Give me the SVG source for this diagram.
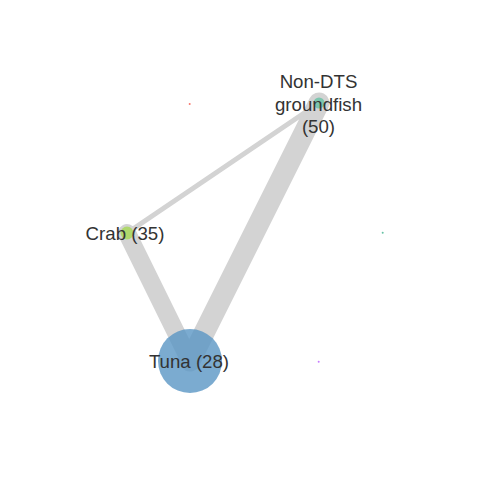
<svg xmlns="http://www.w3.org/2000/svg" width="480" height="480" viewBox="0 0 480 480">
<style>
.edge{stroke:#d3d3d3;stroke-linecap:round;fill:none}
.lbl{font-family:"Liberation Sans",Arial,sans-serif;font-size:18.67px;fill:#333333;text-anchor:middle}
.node{fill-opacity:0.8}
</style>
<rect width="480" height="480" fill="#ffffff"/>
<g id="edges">
<line class="edge" x1="127" y1="233" x2="190" y2="361" stroke-width="18"/>
<line class="edge" x1="319" y1="103" x2="190" y2="361" stroke-width="21"/>
<line class="edge" x1="127" y1="233" x2="319" y2="103" stroke-width="5"/>
</g>
<g id="node-red"><circle cx="189.7" cy="104" r="1" fill="#f8766d"/></g>
<g id="node-teal"><circle cx="382.7" cy="232.7" r="1" fill="#66c2a5"/></g>
<g id="node-purple"><circle cx="318.7" cy="361.7" r="1" fill="#c77cff"/></g>
<g id="node-tuna">
<circle class="node" cx="190" cy="361" r="32" fill="#5a96c4"/>
<text class="lbl" x="189" y="367.5">Tuna (28)</text>
</g>
<g id="node-crab">
<circle class="node" cx="127" cy="233" r="6.5" fill="#a6d854"/>
<text class="lbl" x="125" y="240">Crab (35)</text>
</g>
<g id="node-nondts">
<circle class="node" cx="319" cy="103" r="5.5" fill="#66c2a5"/>
<text class="lbl" x="318.5" y="88">Non-DTS</text>
<text class="lbl" x="318.5" y="110.5">groundfish</text>
<text class="lbl" x="318.5" y="133">(50)</text>
</g>
</svg>
